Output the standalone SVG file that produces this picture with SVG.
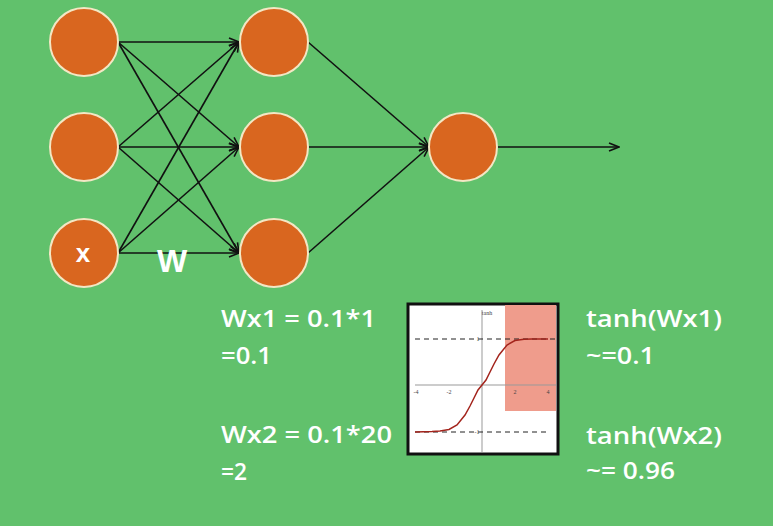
<svg xmlns="http://www.w3.org/2000/svg" width="773" height="526" viewBox="0 0 773 526">
<defs>
<marker id="ah" markerWidth="12" markerHeight="10" refX="11" refY="5" orient="auto" markerUnits="userSpaceOnUse">
<path d="M1,1 L11,5 L1,9" fill="none" stroke="#111" stroke-width="1.6"/>
</marker>
<style>
.n{fill:#d9661f;stroke:#f3e7c4;stroke-width:2}
.e{stroke:#111;stroke-width:1.6;fill:none;marker-end:url(#ah)}
.t{font-family:"Open Sans","Liberation Sans",sans-serif;font-size:23px;font-weight:600;fill:#fff}
.b{font-family:"Liberation Sans",sans-serif;font-weight:bold;fill:#fff}
.d{stroke:#222;stroke-width:1;stroke-dasharray:5,4;fill:none}
</style>
</defs>
<rect width="773" height="526" fill="#61c16c"/>
<g id="connectors">
<line class="e" x1="118" y1="42" x2="239" y2="42"/>
<line class="e" x1="118" y1="42" x2="239" y2="147"/>
<line class="e" x1="118" y1="42" x2="239" y2="253"/>
<line class="e" x1="118" y1="147" x2="239" y2="42"/>
<line class="e" x1="118" y1="147" x2="239" y2="147"/>
<line class="e" x1="118" y1="147" x2="239" y2="253"/>
<line class="e" x1="118" y1="253" x2="239" y2="42"/>
<line class="e" x1="118" y1="253" x2="239" y2="147"/>
<line class="e" x1="118" y1="253" x2="239" y2="253"/>
<line class="e" x1="308" y1="42" x2="429" y2="147"/>
<line class="e" x1="308" y1="147" x2="429" y2="147"/>
<line class="e" x1="308" y1="253" x2="429" y2="147"/>
<line class="e" x1="497" y1="147" x2="619" y2="147"/>
</g>
<g id="in1"><circle class="n" cx="84" cy="42" r="34"/></g>
<g id="in2"><circle class="n" cx="84" cy="147" r="34"/></g>
<g id="in3"><circle class="n" cx="84" cy="253" r="34"/><text class="b" x="83" y="262" font-size="26" text-anchor="middle">x</text></g>
<g id="h1"><circle class="n" cx="274" cy="42" r="34"/></g>
<g id="h2"><circle class="n" cx="274" cy="147" r="34"/></g>
<g id="h3"><circle class="n" cx="274" cy="253" r="34"/></g>
<g id="out"><circle class="n" cx="463" cy="147" r="34"/></g>
<text class="b" x="172" y="272" font-size="32" text-anchor="middle">W</text>
<g id="plot">
<rect x="408" y="304" width="150" height="150" fill="#fff" stroke="#111" stroke-width="3"/>
<rect x="505" y="305" width="51" height="106" fill="#ef9c8c"/>
<line x1="415" y1="385" x2="556" y2="385" stroke="#999" stroke-width="1"/>
<line x1="482" y1="310" x2="482" y2="452" stroke="#999" stroke-width="1"/>
<line class="d" x1="415" y1="339" x2="556" y2="339"/>
<line class="d" x1="415" y1="432" x2="546" y2="432"/>
<path d="M415,432 L432,431.6 L440,431 L449,429.5 L457,425 L465,415 L470,406 L474,398 L478,390 L482,385 L486,380 L490,372 L494,364 L499,355 L507,345 L515,340.5 L524,339.2 L532,339 L548,339" fill="none" stroke="#a3241c" stroke-width="1.5"/>
<text x="487" y="315" font-family="Liberation Serif,serif" font-size="6" fill="#444" text-anchor="middle">tanh</text>
<g font-family="Liberation Serif,serif" font-size="6" fill="#444" text-anchor="middle">
<text x="416" y="394">-4</text><text x="449" y="394">-2</text><text x="515" y="394">2</text><text x="548" y="394">4</text>
<text x="478" y="341">1</text><text x="477" y="434">-1</text>
</g>
</g>
<g id="labels">
<text class="t" x="221" y="327" textLength="155" lengthAdjust="spacingAndGlyphs">Wx1 = 0.1*1</text>
<text class="t" x="221" y="364" textLength="51" lengthAdjust="spacingAndGlyphs">=0.1</text>
<text class="t" x="221" y="443" textLength="171" lengthAdjust="spacingAndGlyphs">Wx2 = 0.1*20</text>
<text class="t" x="221" y="480" textLength="26" lengthAdjust="spacingAndGlyphs">=2</text>
<text class="t" x="586" y="327" textLength="136" lengthAdjust="spacingAndGlyphs">tanh(Wx1)</text>
<text class="t" x="586" y="364" textLength="69" lengthAdjust="spacingAndGlyphs">~=0.1</text>
<text class="t" x="586" y="444" textLength="136" lengthAdjust="spacingAndGlyphs">tanh(Wx2)</text>
<text class="t" x="586" y="479" textLength="89" lengthAdjust="spacingAndGlyphs">~= 0.96</text>
</g>
</svg>
